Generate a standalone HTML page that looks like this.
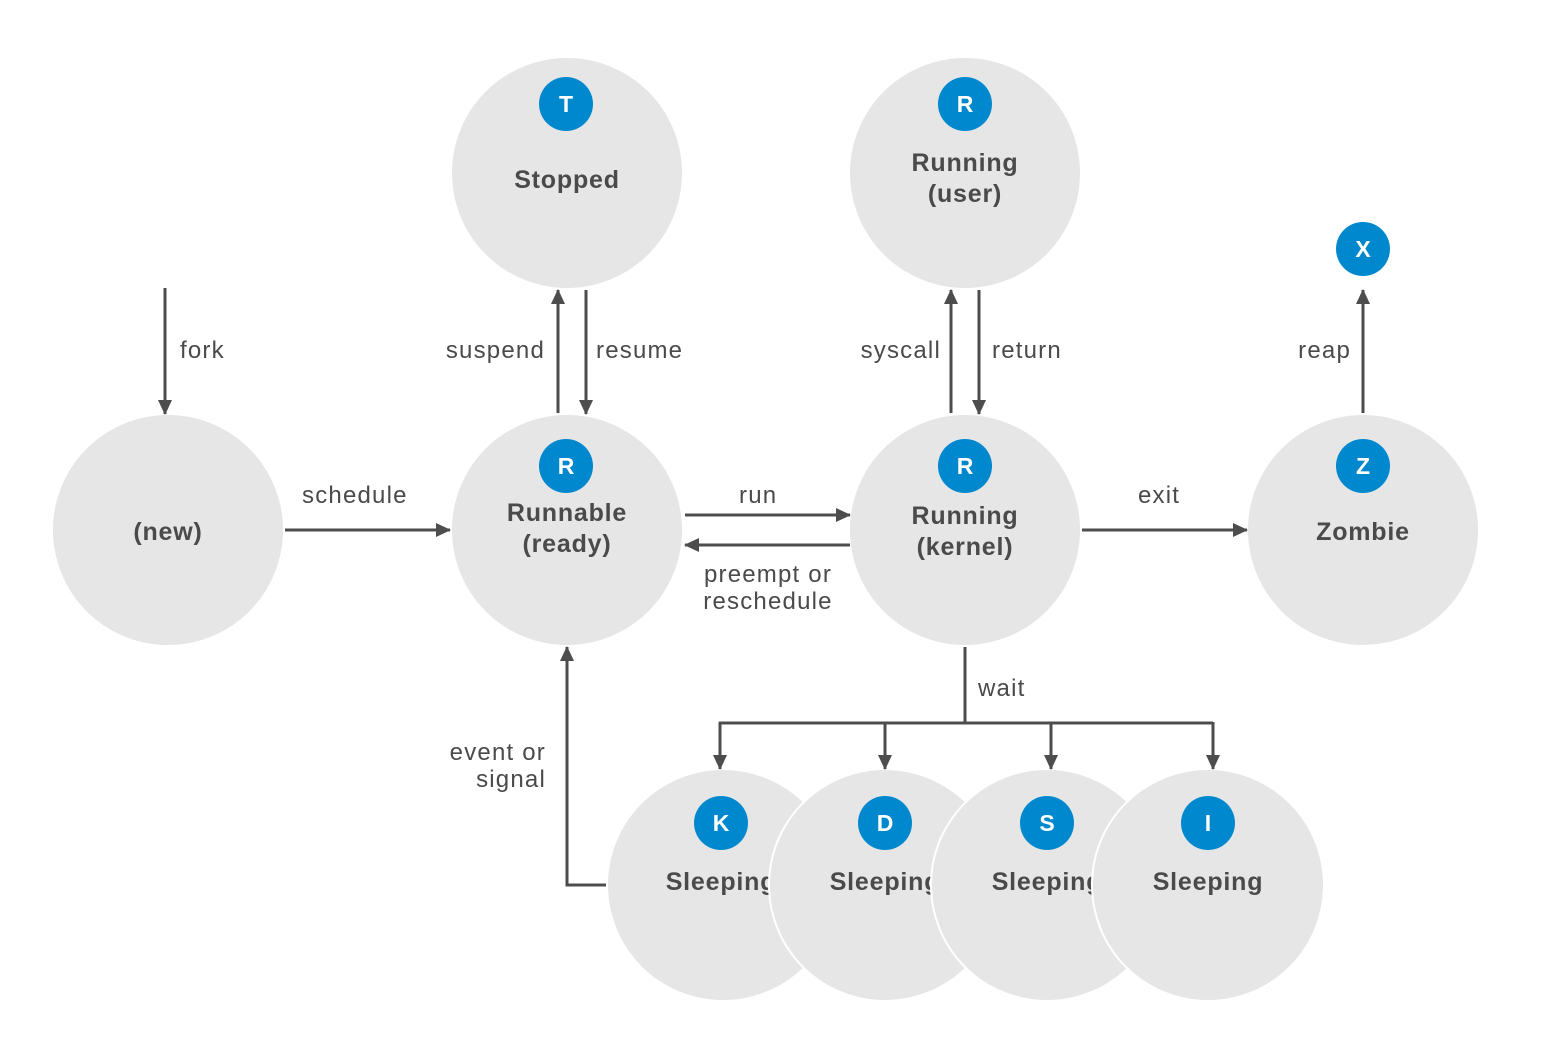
<!DOCTYPE html>
<html><head><style>
html,body{margin:0;padding:0;background:#fff}
svg{display:block}
text{font-family:"Liberation Sans",sans-serif}
.n{font-weight:bold;font-size:25px;fill:#4a4a4a;text-anchor:middle;letter-spacing:0.8px}
.b{font-weight:bold;font-size:23px;fill:#fff;text-anchor:middle}
.l{font-size:24px;fill:#4a4a4a;letter-spacing:1.2px}
.c{fill:#e6e6e6;stroke:#fff;stroke-width:2}
.bd{fill:#0088ce}
.ln{stroke:#4d4d4d;stroke-width:3;fill:none}
</style></head><body>
<svg width="1551" height="1056" viewBox="0 0 1551 1056">
<defs>
<marker id="A" markerWidth="16" markerHeight="16" refX="14" refY="8" orient="auto" markerUnits="userSpaceOnUse">
<path d="M0,1 L15,8 L0,15 z" fill="#4d4d4d"/>
</marker>
</defs>
<circle class="c" cx="168" cy="530" r="116"/>
<text class="n" x="168" y="540">(new)</text>
<circle class="c" cx="567" cy="530" r="116"/>
<circle class="bd" cx="566" cy="466" r="27"/><text class="b" x="566" y="474">R</text>
<text class="n" x="567" y="521">Runnable</text><text class="n" x="567" y="552">(ready)</text>
<circle class="c" cx="567" cy="173" r="116"/>
<circle class="bd" cx="566" cy="104" r="27"/><text class="b" x="566" y="112">T</text>
<text class="n" x="567" y="188">Stopped</text>
<circle class="c" cx="965" cy="173" r="116"/>
<circle class="bd" cx="965" cy="104" r="27"/><text class="b" x="965" y="112">R</text>
<text class="n" x="965" y="171">Running</text><text class="n" x="965" y="202">(user)</text>
<circle class="c" cx="965" cy="530" r="116"/>
<circle class="bd" cx="965" cy="466" r="27"/><text class="b" x="965" y="474">R</text>
<text class="n" x="965" y="524">Running</text><text class="n" x="965" y="555">(kernel)</text>
<circle class="c" cx="1363" cy="530" r="116"/>
<circle class="bd" cx="1363" cy="466" r="27"/><text class="b" x="1363" y="474">Z</text>
<text class="n" x="1363" y="540">Zombie</text>
<circle class="bd" cx="1363" cy="249" r="27"/><text class="b" x="1363" y="257">X</text>
<circle class="c" cx="723" cy="885" r="116"/>
<circle class="bd" cx="721" cy="823" r="27"/><text class="b" x="721" y="831">K</text>
<text class="n" x="721" y="890">Sleeping</text>
<circle class="c" cx="885" cy="885" r="116"/>
<circle class="bd" cx="885" cy="823" r="27"/><text class="b" x="885" y="831">D</text>
<text class="n" x="885" y="890">Sleeping</text>
<circle class="c" cx="1047" cy="885" r="116"/>
<circle class="bd" cx="1047" cy="823" r="27"/><text class="b" x="1047" y="831">S</text>
<text class="n" x="1047" y="890">Sleeping</text>
<circle class="c" cx="1208" cy="885" r="116"/>
<circle class="bd" cx="1208" cy="823" r="27"/><text class="b" x="1208" y="831">I</text>
<text class="n" x="1208" y="890">Sleeping</text>
<line class="ln" x1="165" y1="288" x2="165" y2="414" marker-end="url(#A)"/>
<text class="l" x="180" y="358">fork</text>
<line class="ln" x1="285" y1="530" x2="450" y2="530" marker-end="url(#A)"/>
<text class="l" x="302" y="503">schedule</text>
<line class="ln" x1="558" y1="413" x2="558" y2="290" marker-end="url(#A)"/>
<line class="ln" x1="586" y1="290" x2="586" y2="414" marker-end="url(#A)"/>
<text class="l" x="545" y="358" text-anchor="end">suspend</text>
<text class="l" x="596" y="358">resume</text>
<line class="ln" x1="951" y1="413" x2="951" y2="290" marker-end="url(#A)"/>
<line class="ln" x1="979" y1="290" x2="979" y2="414" marker-end="url(#A)"/>
<text class="l" x="941" y="358" text-anchor="end">syscall</text>
<text class="l" x="992" y="358">return</text>
<line class="ln" x1="685" y1="515" x2="850" y2="515" marker-end="url(#A)"/>
<line class="ln" x1="850" y1="545" x2="685" y2="545" marker-end="url(#A)"/>
<text class="l" x="739" y="503">run</text>
<text class="l" x="768" y="582" text-anchor="middle">preempt or</text>
<text class="l" x="768" y="609" text-anchor="middle">reschedule</text>
<line class="ln" x1="1082" y1="530" x2="1247" y2="530" marker-end="url(#A)"/>
<text class="l" x="1138" y="503">exit</text>
<line class="ln" x1="1363" y1="413" x2="1363" y2="290" marker-end="url(#A)"/>
<text class="l" x="1351" y="358" text-anchor="end">reap</text>
<polyline class="ln" points="965,647 965,723"/>
<text class="l" x="978" y="696">wait</text>
<polyline class="ln" points="719,723 1213,723"/>
<line class="ln" x1="720" y1="722" x2="720" y2="769" marker-end="url(#A)"/>
<line class="ln" x1="885" y1="722" x2="885" y2="769" marker-end="url(#A)"/>
<line class="ln" x1="1051" y1="722" x2="1051" y2="769" marker-end="url(#A)"/>
<line class="ln" x1="1213" y1="722" x2="1213" y2="769" marker-end="url(#A)"/>
<polyline class="ln" points="606,885 567,885 567,647" marker-end="url(#A)"/>
<text class="l" x="546" y="760" text-anchor="end">event or</text>
<text class="l" x="546" y="787" text-anchor="end">signal</text>
</svg>
</body></html>
